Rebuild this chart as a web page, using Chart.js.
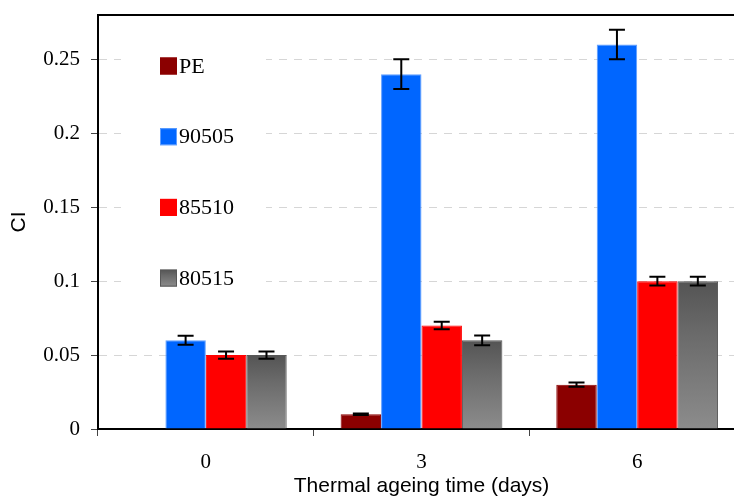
<!DOCTYPE html>
<html>
<head>
<meta charset="utf-8">
<script src="https://cdn.jsdelivr.net/npm/chart.js@4"></script>
<style>
  html, body { margin: 0; padding: 0; background: #fff; overflow: hidden; }
  #wrap { width: 734px; height: 499px; overflow: hidden; position: relative; }
  canvas { display: block; }
</style>
</head>
<body>
<div id="wrap"><canvas id="c" width="760" height="499"></canvas></div>
<script>
// ---- data ----
const categories = ['0', '3', '6'];
const seriesNames = ['PE', '90505', '85510', '80515'];
const pe      = [0,     0.01,   0.03];
const peErr   = [0,     0.0005, 0.0015];
const s90505  = [0.06,  0.24,   0.26];
const s90505Err = [0.003, 0.01, 0.01];
const s85510  = [0.05,  0.07,   0.10];
const s85510Err = [0.0025, 0.0025, 0.003];
const s80515  = [0.05,  0.06,   0.10];
const s80515Err = [0.0025, 0.0033, 0.003];
const yTickLabels = ['0', '0.05', '0.1', '0.15', '0.2', '0.25'];

const seriesValues = [pe, s90505, s85510, s80515];
const seriesErrors = [peErr, s90505Err, s85510Err, s80515Err];

Chart.defaults.color = '#000';

function grayGradient(ctx2d, y0, y1) {
  const g = ctx2d.createLinearGradient(0, y0, 0, y1);
  g.addColorStop(0, '#545454');
  g.addColorStop(0.35, '#6a6a6a');
  g.addColorStop(1, '#8c8c8c');
  return g;
}

const fills = [
  '#8B0000',
  '#0066FF',
  '#FF0000',
  (c) => {
    const chart = c.chart;
    if (!chart.chartArea || c.raw === undefined) return '#777';
    const y = chart.scales.y;
    return grayGradient(chart.ctx, y.getPixelForValue(c.raw), y.getPixelForValue(0));
  }
];
const borders = ['#8B0000', '#5f9eff', '#FF0000', '#585858'];

const errorBarPlugin = {
  id: 'errorBars',
  afterDatasetsDraw(chart) {
    const ctx = chart.ctx;
    const y = chart.scales.y;
    ctx.save();
    ctx.strokeStyle = '#000';
    ctx.lineWidth = 2;
    chart.data.datasets.forEach((ds, di) => {
      const meta = chart.getDatasetMeta(di);
      meta.data.forEach((el, i) => {
        const v = ds.data[i], e = seriesErrors[di][i];
        const yt = y.getPixelForValue(v + e), yb = y.getPixelForValue(v - e);
        const x = el.x, w = 8;
        ctx.beginPath();
        ctx.moveTo(x, yt); ctx.lineTo(x, yb);
        ctx.moveTo(x - w, yt); ctx.lineTo(x + w, yt);
        ctx.moveTo(x - w, yb); ctx.lineTo(x + w, yb);
        ctx.stroke();
      });
    });
    ctx.restore();
  }
};

const legendPlugin = {
  id: 'insideLegend',
  beforeDatasetsDraw(chart) {
    const ctx = chart.ctx;
    const a = chart.chartArea;
    ctx.save();
    ctx.fillStyle = '#fff';
    ctx.fillRect(a.left + 23, a.top + 20, 145, 280);
    const x0 = a.left + 62, size = 17, rowY0 = a.top + 51, step = 70.7;
    ctx.font = '22px "Liberation Serif", "Times New Roman", serif';
    ctx.textBaseline = 'middle';
    ctx.textAlign = 'left';
    seriesNames.forEach((name, i) => {
      const cy = rowY0 + i * step;
      const top = cy - size / 2;
      if (i === 3) ctx.fillStyle = grayGradient(ctx, top, top + size);
      else ctx.fillStyle = fills[i];
      ctx.fillRect(x0, top, size, size);
      ctx.strokeStyle = borders[i];
      ctx.lineWidth = 1;
      ctx.strokeRect(x0 + 0.5, top + 0.5, size - 1, size - 1);
      ctx.fillStyle = '#000';
      ctx.fillText(name, x0 + size + 2, cy + 1);
    });
    ctx.restore();
  },
  afterDraw(chart) {
    const ctx = chart.ctx;
    const a = chart.chartArea;
    ctx.save();
    ctx.strokeStyle = '#000';
    ctx.lineWidth = 2;
    ctx.beginPath();
    ctx.moveTo(a.left - 1, a.top);
    ctx.lineTo(a.right, a.top);
    ctx.lineTo(a.right, a.bottom);
    ctx.stroke();
    ctx.restore();
  }
};

new Chart(document.getElementById('c'), {
  type: 'bar',
  data: {
    labels: categories,
    datasets: seriesNames.map((n, i) => ({
      label: n,
      data: seriesValues[i],
      backgroundColor: fills[i],
      borderColor: borders[i],
      borderWidth: 1,
      categoryPercentage: 0.75,
      barPercentage: 1.0
    }))
  },
  options: {
    responsive: false,
    animation: false,
    devicePixelRatio: 1,
    layout: { padding: { top: 15, right: 15, left: 0, bottom: 0 } },
    plugins: { legend: { display: false }, tooltip: { enabled: false } },
    scales: {
      x: {
        afterFit(s) { s.height = 70; s.paddingLeft = 0; s.paddingRight = 0; },
        grid: { drawOnChartArea: false, offset: true, tickLength: 7, tickColor: '#444', tickWidth: 1 },
        border: { color: '#000', width: 2 },
        ticks: { padding: 14, font: { family: '"Liberation Serif", "Times New Roman", serif', size: 21 }, color: '#000' },
        title: { display: true, text: 'Thermal ageing time (days)', padding: { top: 0, bottom: 0 },
                 font: { family: '"Liberation Sans", Arial, sans-serif', size: 21 }, color: '#000' }
      },
      y: {
        min: 0, max: 0.28,
        afterFit(s) { s.width = 98; s.paddingTop = 0; s.paddingBottom = 0; },
        grid: { color: '#d6d6d6', lineWidth: 1, tickLength: 7, tickColor: '#444', tickBorderDash: [] },
        border: { color: '#000', width: 2, dash: [8, 7] },
        ticks: {
          stepSize: 0.05, includeBounds: false, padding: 11,
          font: { family: '"Liberation Serif", "Times New Roman", serif', size: 21 }, color: '#000',
          callback: (v) => yTickLabels[Math.round(v / 0.05)]
        },
        title: { display: true, text: 'CI', padding: { top: 7, bottom: 0 },
                 font: { family: '"Liberation Sans", Arial, sans-serif', size: 21 }, color: '#000' }
      }
    }
  },
  plugins: [legendPlugin, errorBarPlugin]
});
</script>
</body>
</html>
